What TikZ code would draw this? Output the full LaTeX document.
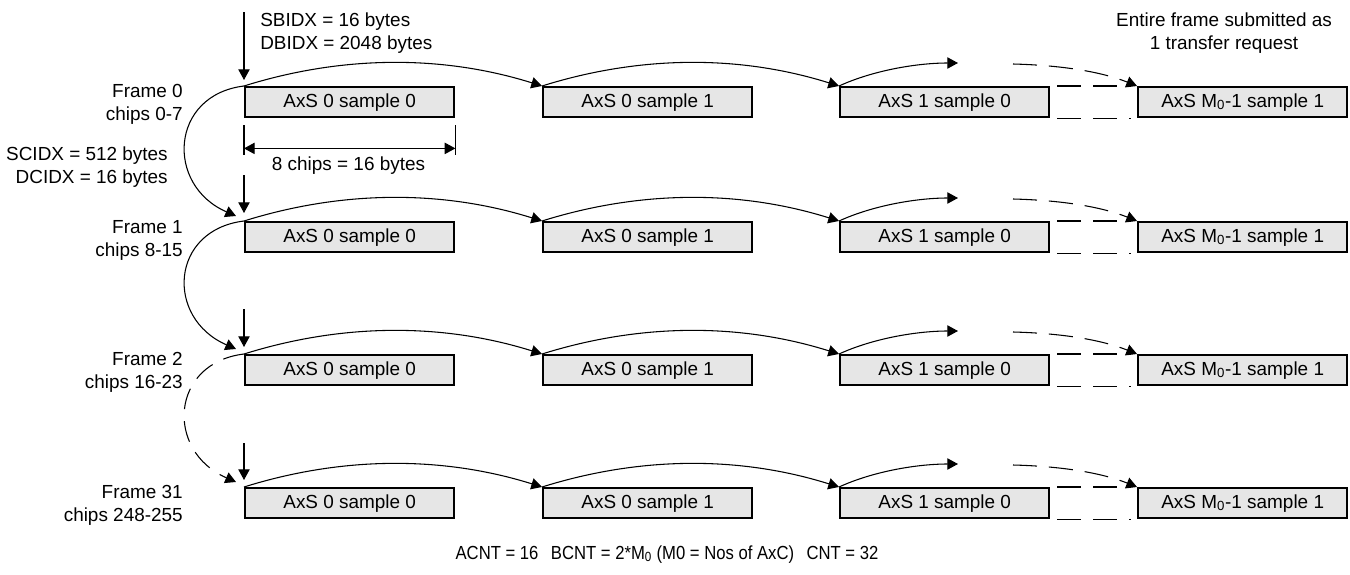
\documentclass[tikz,border=0pt]{standalone}
\usepackage{fontspec}
\setmainfont{Liberation Sans}
\usetikzlibrary{arrows.meta,calc}
\definecolor{boxgray}{RGB}{230,230,230}
\begin{document}
\begin{tikzpicture}[x=0.75pt,y=-0.75pt,
  every node/.style={font=\fontsize{14.2pt}{17.2pt}\selectfont, inner sep=0pt, text=black},
  cell/.style={draw=black, line width=1.8pt, fill=boxgray, minimum width=156.75pt, minimum height=22.5pt, anchor=north west},
  conn/.style={line width=0.8pt, -{Triangle[length=8pt,width=8.5pt]}},
  plainline/.style={line width=0.8pt},
  dimline/.style={line width=0.8pt, {Triangle[length=8pt,width=8.5pt]}-{Triangle[length=8pt,width=8.5pt]}},
  dsh/.style={dash pattern=on 18pt off 9pt}
]
\useasboundingbox (0,0) rectangle (1350,575);

% boxes and horizontal connectors per frame
\foreach \r/\y in {0/86,1/221,2/354,3/487} {
  \node[cell] (b\r0) at (244,\y) {AxS 0 sample 0};
  \node[cell] (b\r1) at (542,\y) {AxS 0 sample 1};
  \node[cell] (b\r2) at (839,\y) {AxS 1 sample 0};
  \node[cell] (b\r3) at (1137,\y) {AxS M\textsubscript{0}-1 sample 1};
  \coordinate (pe\r) at ($(b\r2.north west)+(119,-23)$);
  \coordinate (ps\r) at ($(b\r2.north west)+(174,-22)$);
  \draw[conn] (b\r0.north west) .. controls +(99,-31) and +(-99,-31) .. (b\r1.north west);
  \draw[conn] (b\r1.north west) .. controls +(99,-31) and +(-99,-31) .. (b\r2.north west);
  \draw[conn] (b\r2.north west) .. controls +(35,-16) and +(-40,0) .. (pe\r);
  \draw[conn, dsh] (ps\r) .. controls +(40,1) and +(-40,-16) .. (b\r3.north west);
  \draw[plainline, dsh] ($(b\r2.north east)+(7,0)$) -- ($(b\r3.north west)+(-6,0)$);
  \draw[plainline, dsh] ($(b\r2.south east)+(7,0)$) -- ($(b\r3.south west)+(-6,0)$);
}

% vertical arrows
\coordinate (v0) at (244,12);
\draw[conn] (v0) -- ($(b00.north west)+(0,-6)$);
\coordinate (v1) at ($(b10.north west)+(0,-46)$);
\draw[conn] (v1) -- ($(b10.north west)+(0,-8)$);
\coordinate (v2) at ($(b20.north west)+(0,-45)$);
\draw[conn] (v2) -- ($(b20.north west)+(0,-7)$);
\coordinate (v3) at ($(b30.north west)+(0,-44)$);
\draw[conn] (v3) -- ($(b30.north west)+(0,-7)$);

% left loop connectors
\coordinate (lt1) at ($(b10.north west)+(-8,-5)$);
\coordinate (lt2) at ($(b20.north west)+(-8,-5)$);
\coordinate (lt3) at ($(b30.north west)+(-8,-5)$);
\draw[conn] (b00.north west) .. controls +(-74,9) and +(-71,-31) .. (lt1);
\draw[conn] (b10.north west) .. controls +(-74,9) and +(-71,-31) .. (lt2);
\draw[conn, dash pattern=on 16pt off 9pt] (b20.north west) .. controls +(-74,9) and +(-71,-31) .. (lt3);

% dimension
\draw[plainline] ($(b00.south west)+(0,7)$) coordinate (dt1) -- ++(0,30);
\draw[plainline] ($(b00.south east)+(0,7)$) coordinate (dt2) -- ++(0,30);
\draw[dimline] ($(b00.south west)+(0,30)$) -- ($(b00.south east)+(0,30)$);
\node[anchor=base] (dimtxt) at (348.5,170) {8 chips = 16 bytes};

% top texts
\node[anchor=base west] (sb) at (260,26) {SBIDX = 16 bytes};
\node[anchor=base west] (db) at (260,49) {DBIDX = 2048 bytes};
\node[anchor=base] (ent1) at (1224,26) {Entire frame submitted as};
\node[anchor=base] (ent2) at (1224,49) {1 transfer request};

% left labels
\node[anchor=base east] (f0a) at (183,97) {Frame 0};
\node[anchor=base east] (f0b) at (183,120) {chips 0-7};
\node[anchor=base east] (sc) at (168,160) {SCIDX = 512 bytes};
\node[anchor=base east] (dc) at (168,183) {DCIDX = 16 bytes};
\node[anchor=base east] (f1a) at (183,233) {Frame 1};
\node[anchor=base east] (f1b) at (183,256) {chips 8-15};
\node[anchor=base east] (f2a) at (183,365) {Frame 2};
\node[anchor=base east] (f2b) at (183,388) {chips 16-23};
\node[anchor=base east] (f3a) at (183,498) {Frame 31};
\node[anchor=base east] (f3b) at (183,521) {chips 248-255};

% bottom text
\node[anchor=base] (cnt) at (667,559) {\scalebox{0.88}[1]{ACNT = 16\hspace{0.75em}BCNT = 2*M\textsubscript{0} (M0 = Nos of AxC)\hspace{0.75em}CNT = 32}};
\end{tikzpicture}
\end{document}
